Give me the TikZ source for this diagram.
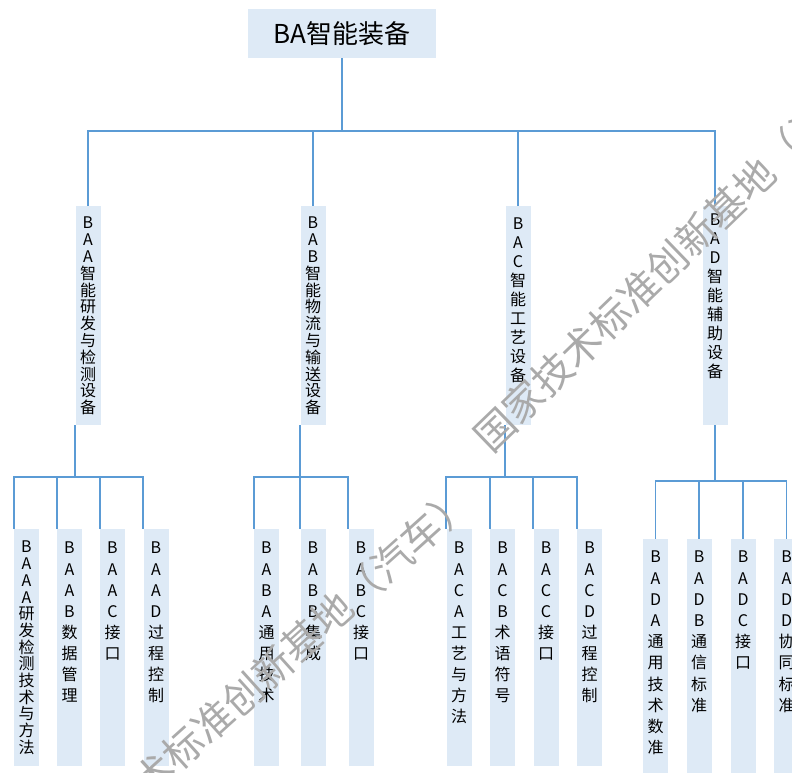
\documentclass[tikz,border=0pt]{standalone}
\usepackage{fontspec}
\newfontfamily\cjk{Noto Sans CJK SC}
\definecolor{boxblue}{HTML}{DEEAF6}
\definecolor{lineblue}{HTML}{5B9BD5}
\definecolor{wmgray}{RGB}{170,170,170}
\begin{document}
\setlength{\lineskiplimit}{-20pt}
\begin{tikzpicture}[x=1pt,y=-1pt,
  box/.style={fill=boxblue,draw=none,inner sep=0pt,minimum width=25pt},
  lvltwo/.style={box,minimum height=219pt},
  lvlthree/.style={box,minimum height=237pt},
  vt/.style={font=\cjk\fontsize{16}{#1}\selectfont,align=center,inner sep=0pt,anchor=north},
  conn/.style={draw=lineblue,line width=1.8pt},
  wm/.style={font=\cjk\fontsize{40}{40}\selectfont,text=wmgray,inner sep=0pt}]
\useasboundingbox (0,0) rectangle (792,773);
\clip (0,0) rectangle (792,773);
% top
\node[box,minimum width=188pt,minimum height=49pt,font=\cjk\fontsize{26}{30}\selectfont] (top) at (342,33.5) {BA智能装备};
% level 2
\node[lvltwo] (baa) at (88,315.5) {};
\node[lvltwo] (bab) at (313,315.5) {};
\node[lvltwo] (bac) at (518,315.5) {};
\node[lvltwo] (bad) at (715,315.5) {};
\node[vt=16.8] (tbaa) at (88,217) {B\\A\\A\\智\\能\\研\\发\\与\\检\\测\\设\\备};
\node[vt=16.8] (tbab) at (313,217) {B\\A\\B\\智\\能\\物\\流\\与\\输\\送\\设\\备};
\node[vt=18.9] (tbac) at (518,218) {B\\A\\C\\智\\能\\工\\艺\\设\\备};
\node[vt=19] (tbad) at (715,214) {B\\A\\D\\智\\能\\辅\\助\\设\\备};
% level 3 group A
\node[lvlthree] (baaa) at (26.5,647.5) {};
\node[lvlthree] (baab) at (69.5,647.5) {};
\node[lvlthree] (baac) at (112.5,647.5) {};
\node[lvlthree] (baad) at (156,647.5) {};
\node[vt=16.7] (tbaaa) at (26.5,541) {B\\A\\A\\A\\研\\发\\检\\测\\技\\术\\与\\方\\法};
\node[vt=21.1] (tbaab) at (69.5,542) {B\\A\\A\\B\\数\\据\\管\\理};
\node[vt=21.1] (tbaac) at (112.5,542) {B\\A\\A\\C\\接\\口};
\node[vt=21.1] (tbaad) at (156,542) {B\\A\\A\\D\\过\\程\\控\\制};
% group B
\node[lvlthree] (baba) at (266.5,647.5) {};
\node[lvlthree] (babb) at (313,647.5) {};
\node[lvlthree] (babc) at (361,647.5) {};
\node[vt=21.1] (tbaba) at (266.5,542) {B\\A\\B\\A\\通\\用\\技\\术};
\node[vt=21.1] (tbabb) at (313,542) {B\\A\\B\\B\\集\\成};
\node[vt=21.1] (tbabc) at (361,542) {B\\A\\B\\C\\接\\口};
% group C
\node[lvlthree] (baca) at (459,647.5) {};
\node[lvlthree] (bacb) at (502.5,647.5) {};
\node[lvlthree] (bacc) at (546,647.5) {};
\node[lvlthree] (bacd) at (589.5,647.5) {};
\node[vt=21.1] (tbaca) at (459,542) {B\\A\\C\\A\\工\\艺\\与\\方\\法};
\node[vt=21.1] (tbacb) at (502.5,542) {B\\A\\C\\B\\术\\语\\符\\号};
\node[vt=21.1] (tbacc) at (546,542) {B\\A\\C\\C\\接\\口};
\node[vt=21.1] (tbacd) at (589.5,542) {B\\A\\C\\D\\过\\程\\控\\制};
% group D
\node[lvlthree] (bada) at (655.5,657.5) {};
\node[lvlthree] (badb) at (699,657.5) {};
\node[lvlthree] (badc) at (743,657.5) {};
\node[lvlthree] (badd) at (786.5,657.5) {};
\node[vt=21.2] (tbada) at (655.5,551) {B\\A\\D\\A\\通\\用\\技\\术\\数\\准};
\node[vt=21.2] (tbadb) at (699,551) {B\\A\\D\\B\\通\\信\\标\\准};
\node[vt=21.2] (tbadc) at (743,551) {B\\A\\D\\C\\接\\口};
\node[vt=21.2] (tbadd) at (786.5,551) {B\\A\\D\\D\\协\\同\\标\\准};
% connectors top
\coordinate (j0) at (top.south |- 0,131);
\draw[conn] (top.south) -- (j0);
\draw[conn] (j0) -| (baa.north);
\draw[conn] (j0) -| (bab.north);
\draw[conn] (j0) -| (bac.north);
\draw[conn] (j0) -| (bad.north);
% group A connectors
\coordinate (ja) at (baa.south west |- 0,477);
\draw[conn] (baa.south west) -- (ja);
\draw[conn] (ja) -| (baaa.north west);
\draw[conn] (ja) -| (baab.north west);
\draw[conn] (ja) -| (baac.north west);
\draw[conn] (ja) -| (baad.north west);
% group B connectors
\coordinate (jb) at (bab.south west |- 0,477);
\draw[conn] (bab.south west) -- (jb);
\draw[conn] (jb) -| (baba.north west);
\draw[conn] (jb) -| (babb.north west);
\draw[conn] (jb) -| (babc.north west);
% group C connectors
\coordinate (jc) at (bac.south west |- 0,477);
\draw[conn] (bac.south west) -- (jc);
\draw[conn] (jc) -| (baca.north west);
\draw[conn] (jc) -| (bacb.north west);
\draw[conn] (jc) -| (bacc.north west);
\draw[conn] (jc) -| (bacd.north west);
% group D connectors
\coordinate (jd) at (bad.south |- 0,481);
\draw[conn] (bad.south) -- (jd);
\draw[conn] (jd) -| (bada.north);
\draw[conn] (jd) -| (badb.north);
\draw[conn] (jd) -| (badc.north);
\draw[conn] (jd) -| (badd.north);
% watermark
\node[wm,rotate=42] (wma) at (258,681) {国家技术标准创新基地（汽车）};
\node[wm,rotate=44] (wmb) at (682,249) {国家技术标准创新基地（汽车）};
\end{tikzpicture}
\end{document}
